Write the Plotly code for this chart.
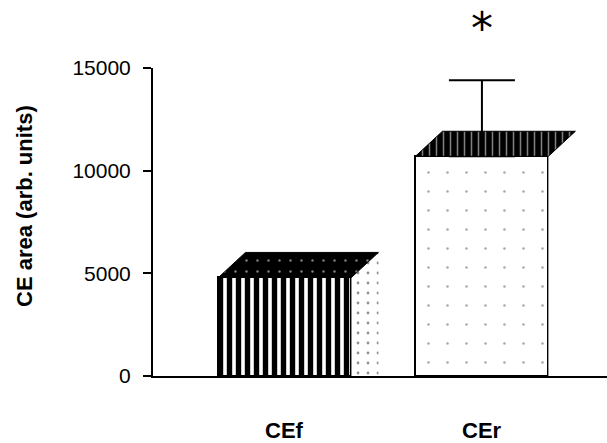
import plotly.graph_objects as go

# ---- data ----
categories = ["CEf", "CEr"]
means = [4800, 10700]
sem = [0, 3700]
y_ticks = [0, 5000, 10000, 15000]
y_tick_labels = ["0", "5000", "10000", "15000"]
y_title = "CE area (arb. units)"
signif = ["", "*"]

# ---- style ----
FONT = "Arial, Liberation Sans, sans-serif"
bar_w = 0.675
depth_x = 0.137      # 3-D depth in x units
depth_y = 1218       # 3-D depth in y units
xpos = list(range(len(categories)))

front_patterns = [
    dict(shape="|", fgcolor="black", bgcolor="white", size=9, solidity=0.6, fgopacity=1),
    dict(shape=".", fgcolor="#555555", bgcolor="white", size=19, solidity=0.015),
]
top_patterns = [
    dict(shape=".", fgcolor="white", bgcolor="black", size=11, solidity=0.04),
    dict(shape="|", fgcolor="white", bgcolor="black", size=7, solidity=0.22),
]
side_patterns = [
    dict(shape=".", fgcolor="#222222", bgcolor="white", size=10, solidity=0.06),
    None,
]

fig = go.Figure()

# front faces
for i, (c, v) in enumerate(zip(categories, means)):
    fig.add_trace(go.Bar(
        x=[xpos[i]], y=[v], width=bar_w,
        marker=dict(color="white", line=dict(color="black", width=2),
                    pattern=front_patterns[i]),
        showlegend=False, hoverinfo="skip",
    ))

# side faces
for i, v in enumerate(means):
    x1 = xpos[i] + bar_w / 2
    kw = dict(fillpattern=side_patterns[i]) if side_patterns[i] else {}
    fig.add_trace(go.Scatter(
        x=[x1, x1, x1 + depth_x, x1 + depth_x, x1],
        y=[0, v, v + depth_y, 0, 0],
        mode="lines", line=dict(width=0, color="rgba(0,0,0,0)"),
        fill="toself", fillcolor="white",
        showlegend=False, hoverinfo="skip", **kw,
    ))

# error bars
err_x = [xpos[i] for i in range(len(means)) if sem[i] > 0]
err_y = [means[i] for i in range(len(means)) if sem[i] > 0]
err_v = [sem[i] for i in range(len(means)) if sem[i] > 0]
fig.add_trace(go.Scatter(
    x=err_x, y=err_y, mode="markers", marker=dict(size=0.1, color="black"),
    error_y=dict(type="data", array=err_v, symmetric=False, arrayminus=[0] * len(err_v),
                 color="black", thickness=2, width=33),
    showlegend=False, hoverinfo="skip",
))

# top faces
for i, v in enumerate(means):
    x0 = xpos[i] - bar_w / 2
    x1 = xpos[i] + bar_w / 2
    fig.add_trace(go.Scatter(
        x=[x0, x1, x1 + depth_x, x0 + depth_x, x0],
        y=[v, v, v + depth_y, v + depth_y, v],
        mode="lines", line=dict(width=1, color="black"),
        fill="toself", fillcolor="black", fillpattern=top_patterns[i],
        showlegend=False, hoverinfo="skip",
    ))

annotations = []
for i, c in enumerate(categories):
    annotations.append(dict(
        x=xpos[i], y=0, xref="x", yref="paper", yshift=-54,
        text=f"<b>{c}</b>", showarrow=False, yanchor="middle", xanchor="center",
        font=dict(family=FONT, size=22, color="black"),
    ))
    if signif[i]:
        annotations.append(dict(
            x=xpos[i], y=1, xref="x", yref="paper", yshift=40,
            text=signif[i], showarrow=False, yanchor="middle", xanchor="center",
            font=dict(family="DejaVu Sans", size=44, color="black"),
        ))
annotations.append(dict(
    x=0, y=0.552, xref="paper", yref="paper", xshift=-128,
    text=f"<b>{y_title}</b>", textangle=-90, showarrow=False,
    xanchor="center", yanchor="middle",
    font=dict(family=FONT, size=22, color="black"),
))

fig.update_layout(
    width=607, height=443,
    margin=dict(l=153, r=0, t=68, b=67),
    plot_bgcolor="white", paper_bgcolor="white",
    bargap=0, barmode="overlay",
    xaxis=dict(range=[-0.670, 1.635], showgrid=False, zeroline=False,
               showline=True, linecolor="black", linewidth=2,
               showticklabels=False, ticks=""),
    yaxis=dict(range=[0, 15000], tickvals=y_ticks, ticktext=y_tick_labels,
               showgrid=False, zeroline=False, showline=True, linecolor="black",
               linewidth=2, ticks="outside", ticklen=8, tickwidth=2, tickcolor="black",
               ticklabelstandoff=8,
               tickfont=dict(family=FONT, size=21, color="black")),
    annotations=annotations,
)

fig.write_html("out.html", config={"displayModeBar": False},
               post_script="document.body.style.margin='0';document.body.style.overflow='hidden';")
